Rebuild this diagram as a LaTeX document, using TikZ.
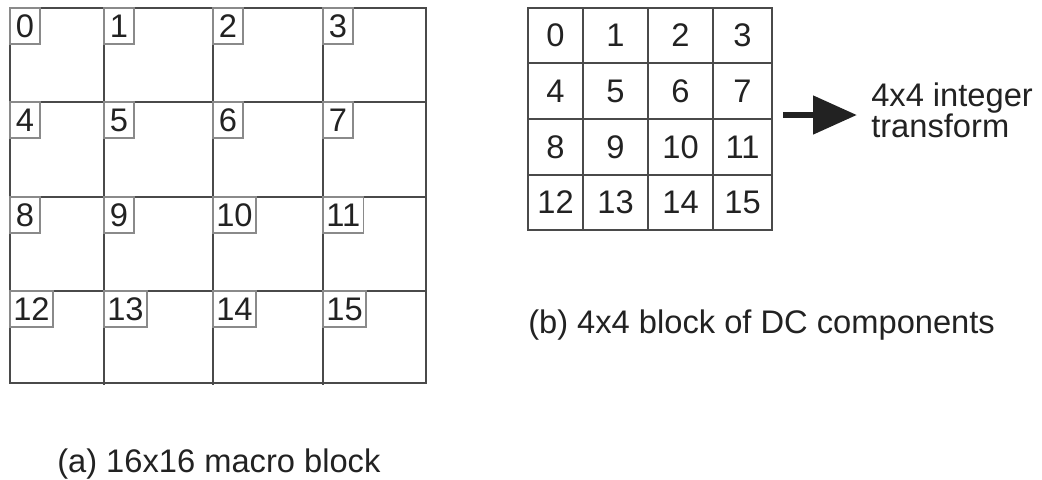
\documentclass[tikz,border=0pt]{standalone}
\usepackage{fontspec}
\setmainfont{Liberation Sans}
\usetikzlibrary{arrows.meta}
\definecolor{gridc}{HTML}{4A4A4A}
\definecolor{boxc}{HTML}{8A8A8A}
\definecolor{txtc}{HTML}{222222}
\begin{document}
\begin{tikzpicture}[x=0.75pt,y=-0.75pt,
  every node/.style={text=txtc, font=\fontsize{24.5}{29}\selectfont},
  gridline/.style={draw=gridc, line width=1pt},
  lbl/.style={draw=boxc, line width=0.8pt, anchor=north west, inner xsep=2.5pt, inner ysep=0pt,
    minimum width=22.5pt, minimum height=27pt, outer sep=0pt},
  cell/.style={draw=gridc, line width=1pt, inner sep=0pt, outer sep=0pt},
  caption/.style={anchor=base west, inner sep=0pt}
]
\useasboundingbox (0,0) rectangle (1042,479);
% ---- left 16x16 macro block ----
\draw[gridline] (10,8) rectangle (426,383);
\foreach \xx in {104,213,323} \draw[gridline] (\xx,8) -- (\xx,385);
\foreach \yy in {102,197,291} \draw[gridline] (10,\yy) -- (426,\yy);
\def\colsL{{10,104,213,323}}
\def\rowsL{{8,102,197,291}}
\foreach \r in {0,1,2,3}{
  \foreach \c in {0,1,2,3}{
    \pgfmathsetmacro{\cx}{\colsL[\c]}
    \pgfmathsetmacro{\ry}{\rowsL[\r]}
    \pgfmathtruncatemacro{\n}{4*\r+\c}
    \node[lbl] (L\n) at (\cx,\ry) {\n};
  }
}
% ---- right 4x4 block ----
\def\colsR{{528,583,648,713,772}}
\def\rowsR{{8,63,119,175,230}}
\foreach \r in {0,1,2,3}{
  \foreach \c in {0,1,2,3}{
    \pgfmathsetmacro{\xa}{\colsR[\c]}
    \pgfmathsetmacro{\xb}{\colsR[\c+1]}
    \pgfmathsetmacro{\ya}{\rowsR[\r]}
    \pgfmathsetmacro{\yb}{\rowsR[\r+1]}
    \pgfmathsetmacro{\w}{0.75*(\xb-\xa)}
    \pgfmathsetmacro{\h}{0.75*(\yb-\ya)}
    \pgfmathtruncatemacro{\n}{4*\r+\c}
    \node[cell, minimum width=\w pt, minimum height=\h pt] (R\n) at ({(\xa+\xb)/2},{(\ya+\yb)/2}) {\n};
  }
}
% ---- arrow and text ----
\coordinate (arrS) at (783,115);
\coordinate (arrE) at (857,115);
\draw[line width=5.2pt, draw=txtc, -{Triangle[length=33pt, width=28pt, fill=txtc]}] (arrS) -- (arrE);
\node[caption] (t1) at (871,106) {4x4 integer};
\node[caption] (t2) at (871,137) {transform};
% ---- captions ----
\node[caption] (capa) at (57,472) {(a) 16x16 macro block};
\node[caption] (capb) at (528,333) {(b) 4x4 block of DC components};
\end{tikzpicture}
\end{document}
